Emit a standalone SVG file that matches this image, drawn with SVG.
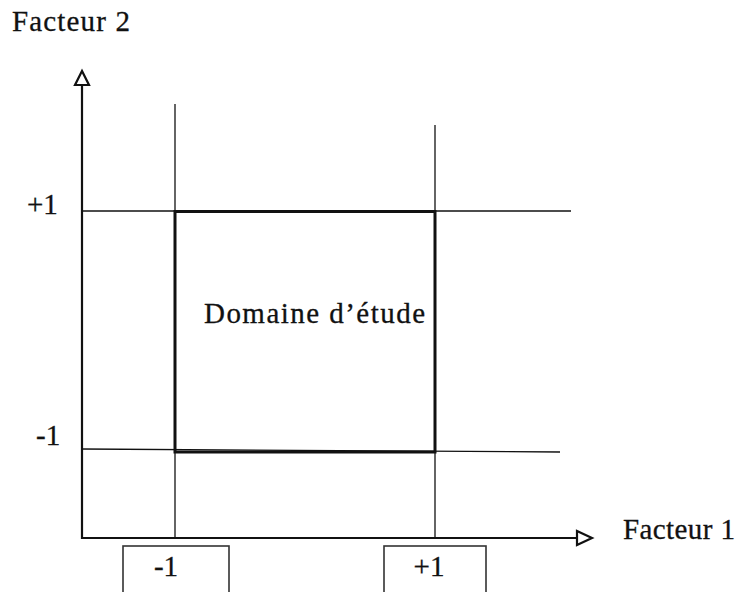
<svg xmlns="http://www.w3.org/2000/svg" width="739" height="592" viewBox="0 0 739 592">
<style>
text{font-family:"Liberation Serif","Times New Roman",serif;font-size:29px;fill:#111;stroke:#111;stroke-width:0.3}
.thin{stroke:#111;stroke-width:1.3;fill:none}
.axis{stroke:#111;stroke-width:2.2;fill:none}
.box{stroke:#333;stroke-width:1.6;fill:#fff}
</style>
<rect width="739" height="592" fill="#fff"/>
<g id="connectors">
<line class="axis" x1="82" y1="86" x2="82" y2="539"/>
<line class="axis" x1="81" y1="538" x2="577" y2="538"/>
<polygon class="axis" stroke-width="2" fill="#fff" points="82,71 75,85 89,85"/>
<polygon class="axis" stroke-width="2" fill="#fff" points="592,538 577,531 577,545"/>
<line class="thin" x1="175" y1="104" x2="175" y2="538"/>
<line class="thin" x1="435" y1="125" x2="435" y2="538"/>
<line class="thin" x1="82" y1="211" x2="571" y2="211"/>
<line class="thin" x1="82" y1="449" x2="560" y2="452"/>
</g>
<g id="domaine">
<rect x="175" y="211.5" width="260" height="240.5" fill="none" stroke="#111" stroke-width="3"/>
<text x="204" y="323" textLength="221" lengthAdjust="spacing">Domaine d’étude</text>
</g>
<g id="facteur2"><text x="12" y="31" textLength="118" lengthAdjust="spacing">Facteur 2</text></g>
<g id="facteur1"><text x="623" y="539" textLength="112" lengthAdjust="spacing">Facteur 1</text></g>
<g id="ylab-plus"><text x="27" y="214">+1</text></g>
<g id="ylab-minus"><text x="36" y="445">-1</text></g>
<g id="xlab-minus">
<rect class="box" x="123" y="546" width="106" height="50"/>
<text x="166" y="576" text-anchor="middle">-1</text>
</g>
<g id="xlab-plus">
<rect class="box" x="384" y="546" width="102" height="50"/>
<text x="429" y="576" text-anchor="middle">+1</text>
</g>
</svg>
